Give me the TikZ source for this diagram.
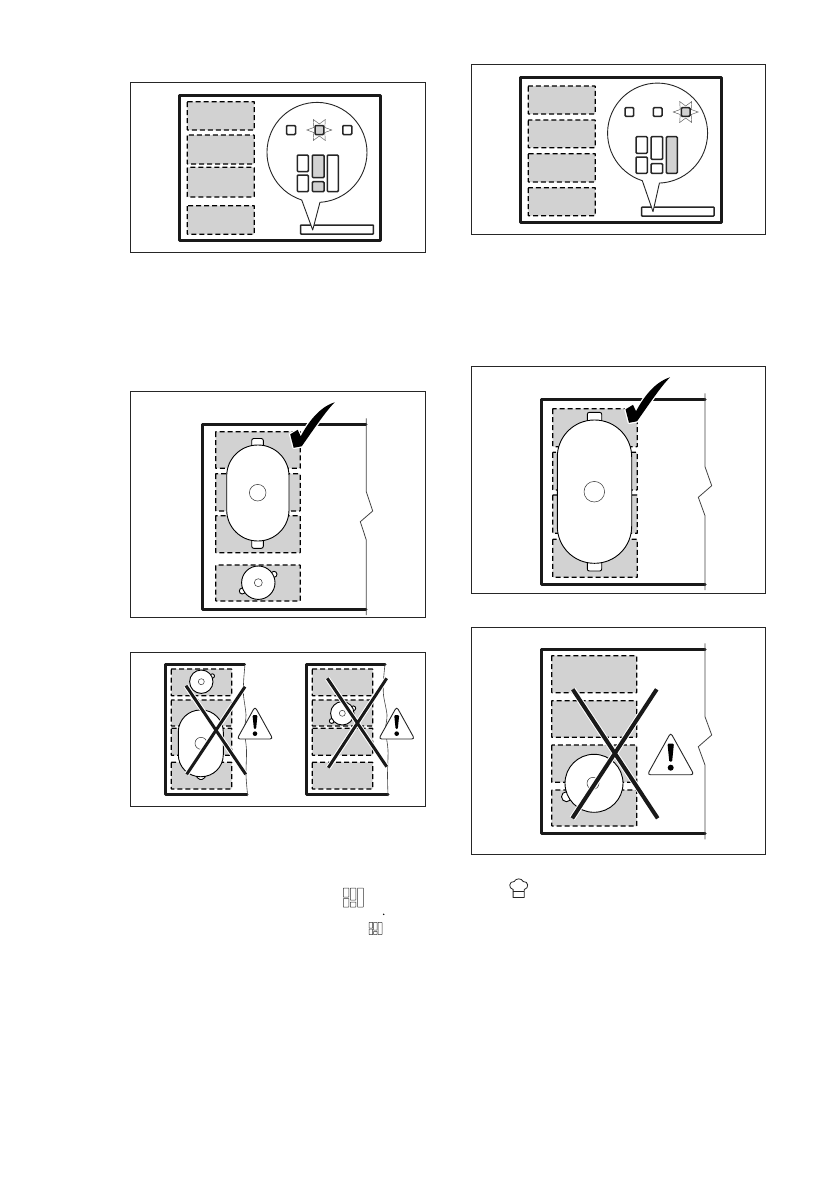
\documentclass[tikz,border=0pt]{standalone}
\definecolor{zonegrey}{HTML}{D2D2D2}
\definecolor{thinline}{HTML}{444444}
\tikzset{
  panelframe/.style={draw=black!85,line width=0.9pt},
  hobline/.style={draw=black!90,line width=3pt,line join=round,line cap=round},
  edgeline/.style={draw=thinline,line width=0.8pt},
  zonebox/.style={fill=zonegrey,draw=black,line width=1.3pt,dash pattern=on 5pt off 3pt,rounded corners=0.5pt},
  keybox/.style={draw=black!85,line width=1.5pt,rounded corners=1pt,fill=white},
  keygrey/.style={keybox,fill=zonegrey},
  balloon/.style={draw=black!85,line width=0.9pt,fill=white,line join=round},
  potline/.style={draw=black,line width=0.9pt,fill=white},
  thinring/.style={draw=black!80,line width=0.5pt,fill=white},
  mini/.style={draw=black!80,line width=0.5pt,rounded corners=0.3pt},
}
\newcommand{\zonebx}[4]{\path[zonebox] (#1,#2) rectangle (#3,#4);}
\newcommand{\keyb}[4]{\path[keybox] (#1,#2) rectangle (#3,#4);}
\newcommand{\keyg}[4]{\path[keygrey] (#1,#2) rectangle (#3,#4);}
\newcommand{\glowstar}[2]{\begin{scope}[shift={(#1,#2)}]
  \draw[draw=black!65,line width=0.45pt,line join=miter] (-12.5,0)--(-5.5,-2.5)--(-6,-10.5)--(0,-6)--(6,-10.5)--(5.5,-2.5)--(12.5,0)--(5.5,2.5)--(6,10.5)--(0,6)--(-6,10.5)--(-5.5,2.5)--cycle;
\end{scope}}
\newcommand{\tickmark}[2]{\begin{scope}[shift={(#1,#2)}]
  \path[fill=black,draw=white,line width=2.6pt,line join=round] (-0.5,1) -- (7,-3.5) -- (10,3) .. controls (17,-10) and (28,-26) .. (44,-31) .. controls (35,-22) and (23,-4) .. (11,13) -- (3,14.5) -- cycle;
  \path[fill=black] (-0.5,1) -- (7,-3.5) -- (10,3) .. controls (17,-10) and (28,-26) .. (44,-31) .. controls (35,-22) and (23,-4) .. (11,13) -- (3,14.5) -- cycle;
\end{scope}}
\newcommand{\warnsign}[3]{\begin{scope}[shift={(#1,#2)},scale=#3]
  \draw[draw=black!85,line width=0.9pt,fill=white,rounded corners=3pt] (0,0) -- (23.3,42) -- (-23.3,42) -- cycle;
  \fill[black,rounded corners=1pt] (-3.2,11) -- (3.2,11) -- (1.4,29) -- (-1.4,29) -- cycle;
  \fill[black] (0,35) circle (3);
\end{scope}}
\newcommand{\crossmark}[9]{
  \draw[white,line width=#9+2pt] (#1,#2) -- (#3,#4) (#5,#6) -- (#7,#8);
  \draw[black!90,line width=#9] (#1,#2) -- (#3,#4) (#5,#6) -- (#7,#8);}
\newcommand{\minibars}[3]{\begin{scope}[shift={(#1,#2)},scale=#3]
  \draw[mini] (0,0) rectangle (5.5,9);
  \draw[mini] (0,10.5) rectangle (5.5,19);
  \draw[mini] (7,0) rectangle (12.5,12);
  \draw[mini] (7,14) rectangle (12.5,19);
  \draw[mini] (14.2,0) rectangle (20,19);
\end{scope}}
\begin{document}
\begin{tikzpicture}[x=1pt,y=-1pt]
\path[use as bounding box,fill=white] (0,0) rectangle (839,1191);

% ---- panel 1
\draw[panelframe] (130.3,82.3) rectangle (425.3,252.3);
\draw[hobline] (179.3,95) rectangle (380,240.7);
\zonebx{187.3}{101.7}{254.3}{130}
\zonebx{187.3}{135}{254.3}{164}
\zonebx{187.3}{167.3}{254.3}{197}
\zonebx{187.3}{205.7}{254.3}{234.3}
\draw[draw=black!85,line width=1.5pt,rounded corners=0.6pt,fill=white] (300.7,225) rectangle (373.3,234);
\path[balloon] (312.7,230) -- (301.7,200) arc[start angle=-107.8,delta angle=-338.8,radius=50pt] -- cycle;
\keyb{286.5}{125.5}{295.5}{134.5}
\keyb{342.8}{125.5}{351.8}{134.5}
\glowstar{319.3}{130}
\keyg{315}{125.5}{323.8}{134.5}
\keyb{297.3}{155}{308.3}{171.7}
\keyb{297.3}{175}{308.3}{191.7}
\keyg{312.3}{155}{324}{177.7}
\keyg{312.3}{181.7}{324}{191.7}
\keyb{327.3}{155}{338.3}{191.7}

% ---- panel 2
\draw[panelframe] (471.7,64.3) rectangle (765.3,234.3);
\draw[hobline] (520.3,77) rectangle (721,222.7);
\zonebx{528.3}{86}{595.3}{114}
\zonebx{528.3}{120}{595.3}{147.7}
\zonebx{528.3}{153.7}{595.3}{182}
\zonebx{528.3}{187.7}{595.3}{215.7}
\draw[draw=black!85,line width=1.5pt,rounded corners=0.6pt,fill=white] (641.7,207) rectangle (714,216);
\path[balloon] (653,211.7) -- (642.3,180.7) arc[start angle=-107.8,delta angle=-340.1,radius=50pt] -- cycle;
\keyb{625}{107.7}{633.7}{116.3}
\keyb{653.3}{107.7}{662}{116.3}
\glowstar{685.7}{112}
\keyg{681.3}{107.7}{690}{116.3}
\keyb{636}{136.7}{647.3}{153.3}
\keyb{636}{157}{647.3}{173.3}
\keyb{651}{136.7}{662.7}{159.3}
\keyb{651}{163.7}{662.7}{173.3}
\keyg{666.3}{136.7}{677.3}{173.3}

% ---- panel 3
\draw[panelframe] (130.3,391.3) rectangle (425.3,617);
\draw[hobline] (366,424.3) -- (202.3,424.3) -- (202.3,609) -- (366,609);
\draw[edgeline] (366.3,418.3) -- (366.3,491.7) -- (372.7,511) -- (360.3,521.7) -- (366.3,540) -- (366.3,615);
\zonebx{215.7}{431.7}{300.3}{468.3}
\zonebx{215.7}{473.7}{300.3}{511}
\zonebx{215.7}{515.7}{300.3}{552.7}
\zonebx{215.7}{565}{300.3}{601}
\draw[potline,rounded corners=2pt] (251.7,447) -- (251.7,438.5) -- (263.3,438.5) -- (263.3,447);
\draw[potline,rounded corners=2pt] (251.7,539) -- (251.7,548.3) -- (263.3,548.3) -- (263.3,539);
\draw[potline,rounded corners=31pt] (226.7,445) rectangle (289,541);
\draw[thinring] (257.7,492.7) circle (8.3);
\draw[potline] (274,574.3) circle (3);
\draw[potline] (242.3,591) circle (3);
\draw[potline] (258.3,582.7) circle (16.7);
\draw[thinring] (258.3,582.7) circle (4);
\tickmark{290.7}{433.3}

% ---- panel 4
\draw[panelframe] (130.3,652.3) rectangle (425.3,806.3);
\draw[hobline] (244.5,664.3) -- (165,664.3) -- (165,794.7) -- (247,794.7);
\draw[edgeline,line width=0.6pt] plot[smooth] coordinates {(245,664.3) (243.7,680) (243.5,695) (246,715) (244.5,730) (246.5,750) (246,775) (247.7,796)};
\zonebx{171.3}{669}{231.7}{695.7}
\zonebx{171.3}{700}{231.7}{726}
\zonebx{171.3}{728.3}{231.7}{755.3}
\zonebx{171.3}{762.3}{231.7}{789}
\draw[potline] (212.3,676) circle (2.2);
\draw[potline] (201.3,681.7) circle (11.7);
\draw[thinring] (201.3,681.7) circle (3);
\draw[potline,rounded corners=2pt] (196.5,776) -- (198,779.5) -- (204,779.5) -- (205.5,776);
\draw[potline,rounded corners=22pt] (178.3,710) rectangle (223.3,776.7);
\draw[thinring] (201,743.3) circle (6);
\crossmark{186}{685.7}{245.7}{774.3}{245}{686.7}{186.7}{774.3}{3pt}
\warnsign{255}{706.7}{0.77}

\draw[hobline] (385,664.3) -- (306,664.3) -- (306,794.7) -- (388,794.7);
\draw[edgeline,line width=0.6pt] plot[smooth] coordinates {(385,664.3) (383.5,680) (383.5,695) (387,715) (385.5,730) (388,750) (387.5,775) (388,796)};
\zonebx{312.3}{669}{372.7}{695.7}
\zonebx{312.3}{700}{372.7}{726}
\zonebx{312.3}{728.3}{372.7}{755.3}
\zonebx{312.3}{762.3}{372.7}{789}
\draw[potline] (353.3,708.3) circle (2.4);
\draw[potline] (331.7,721) circle (2.4);
\draw[potline] (342.3,713.3) circle (11.7);
\draw[thinring] (342.3,713.3) circle (3);
\crossmark{327.3}{678.3}{386.7}{766.7}{386.7}{678.3}{328.3}{767.7}{3pt}
\warnsign{396.7}{706.7}{0.77}

% ---- panel 5
\draw[panelframe] (471.7,366.3) rectangle (765.3,593.3);
\draw[hobline] (705,399.3) -- (541,399.3) -- (541,584.3) -- (705,584.3);
\draw[edgeline] (705,393.3) -- (705,466.7) -- (711.7,485.7) -- (698.3,497.3) -- (705,515.7) -- (705,590);
\zonebx{552.7}{408.7}{637.3}{446.7}
\zonebx{552.7}{452.3}{637.3}{490}
\zonebx{552.7}{495}{637.3}{533.3}
\zonebx{552.7}{539.3}{637.3}{577.3}
\draw[potline,rounded corners=2pt] (587.3,422) -- (587.3,412.3) -- (601.7,412.3) -- (601.7,422);
\draw[potline,rounded corners=2pt] (587.3,562) -- (587.3,571) -- (601.7,571) -- (601.7,562);
\draw[potline,rounded corners=37pt] (557.3,420) rectangle (631.7,563.3);
\draw[thinring] (594.3,491.7) circle (10.3);
\tickmark{626}{408.3}

% ---- panel 6
\draw[panelframe] (471.7,627.3) rectangle (765.3,854.7);
\draw[hobline] (705,649.3) -- (541,649.3) -- (541,833.3) -- (705,833.3);
\draw[edgeline] (705,643.3) -- (705,716.7) -- (711.7,735) -- (698.3,746.7) -- (705,765) -- (705,839.3);
\zonebx{551.7}{655.7}{636.7}{692.7}
\zonebx{551.7}{700.7}{636.7}{737.3}
\zonebx{551.7}{745}{636.7}{782.3}
\zonebx{551.7}{790}{636.7}{826}
\draw[potline] (566.5,796.7) circle (5);
\draw[potline] (594,783.3) circle (29);
\draw[thinring] (593,783.3) circle (6);
\crossmark{572.7}{689.3}{657.7}{818.3}{656.7}{689.3}{572.3}{818.3}{4pt}
\warnsign{670.7}{732.7}{1}

% ---- small inline icons
\minibars{343.3}{888}{1}
\minibars{369}{922.3}{0.65}
\fill[black] (383.7,914.3) circle (0.8);
\begin{scope}[shift={(518.7,888)}]
  \draw[draw=black!85,line width=0.8pt,line join=round] (-5.6,1.5) .. controls (-10.5,0.5) and (-10,-7) .. (-4.5,-6.5) .. controls (-3,-10) and (3,-10) .. (4.5,-6.5) .. controls (10,-7) and (10.5,0.5) .. (5.6,1.5) -- (5.6,9.5) -- (-5.6,9.5) -- cycle;
  \draw[draw=black!85,line width=0.7pt] (-5.6,3.7) -- (5.6,3.7);
\end{scope}
\end{tikzpicture}
\end{document}
